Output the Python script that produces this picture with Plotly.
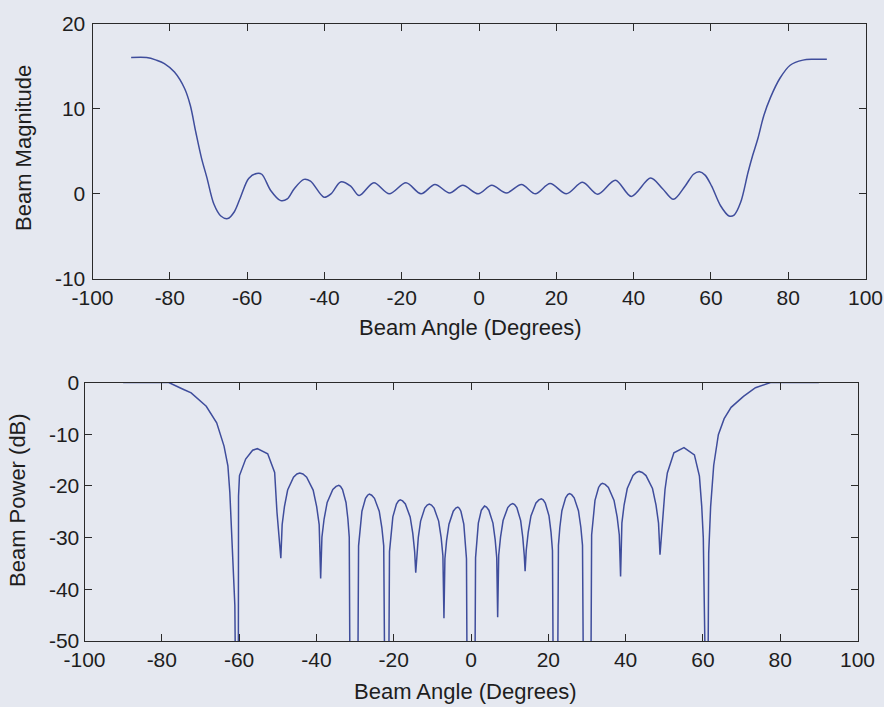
import plotly.graph_objects as go

# ---------------- data ----------------
mag_angle = [-90, -86, -83.5, -81.4, -78.8, -76.2, -74.7, -73.3, -71.8, -70.4,
             -68.6, -66.8, -65.0, -63.3, -61.7, -59.6, -57.5, -56.2, -53.9, -51.3,
             -49.6, -47.8, -45.3, -43.6, -40.1, -38.3, -35.8, -33.2, -31.0, -27.2,
             -23.2, -18.9, -15.0, -11.4, -7.6, -4.2, -0.2, 3.3, 7.1, 11.0,
             14.6, 18.4, 22.6, 26.8, 30.7, 35.3, 39.4, 44.4, 47.5, 50.3,
             53.3, 55.5, 57.0, 58.5, 60.2, 62.5, 64.7, 66.0, 67.7, 69.6,
             70.8, 72.1, 73.7, 75.4, 77.9, 80.5, 83.8, 86.5, 90]
mag_value = [16.0, 16.0, 15.7, 15.3, 14.3, 12.4, 10.4, 7.3, 4.2, 1.9,
             -1.2, -2.6, -2.9, -2.1, -0.4, 1.8, 2.4, 2.3, 0.4, -0.8,
             -0.6, 0.6, 1.7, 1.5, -0.4, 0.0, 1.4, 0.9, -0.2, 1.3,
             0.0, 1.3, 0.0, 1.1, 0.1, 1.0, 0.0, 1.0, 0.1, 1.1,
             0.0, 1.2, 0.0, 1.35, -0.05, 1.6, -0.3, 1.85, 0.6, -0.65,
             0.9, 2.3, 2.6, 2.2, 0.9, -1.4, -2.6, -2.5, -1.0, 2.5,
             4.5, 6.4, 9.2, 11.3, 13.6, 15.1, 15.7, 15.8, 15.8]

pow_angle = [-90, -84, -78.2, -74.5, -72.4, -68.5, -65.8, -63.9, -62.9, -62.4, -61.9, -61.1, -60.9,
             -60.2, -60.15, -59.9, -58.3, -56.5, -55.3, -52.6, -50.8, -50.2, -49.2,
             -48.86, -48.27, -47.44, -45.92, -45.04, -44.3, -43.49, -42.52, -40.84, -39.93, -39.28, -38.9,
             -38.57, -38.01, -37.21, -35.75, -34.9, -34.2, -33.77, -33.24, -32.34, -31.85, -31.5, -31.3,
             -29.3, -29.09, -28.73, -28.22, -27.29, -26.75, -26.3, -25.7, -24.98, -23.74, -23.06, -22.58, -22.3,
             -21.3, -21.09, -20.73, -20.22, -19.29, -18.75, -18.3, -17.7, -16.98, -15.74, -15.06, -14.58, -14.3,
             -14.06, -13.64, -13.04, -11.96, -11.33, -10.8, -10.23, -9.55, -8.37, -7.72, -7.27, -7.0,
             -6.75, -6.32, -5.70, -4.59, -3.94, -3.4, -3.04, -2.61, -1.86, -1.46, -1.17, -1.0,
             1.0, 1.18, 1.48, 1.90, 2.68, 3.13, 3.5, 4.01, 4.62, 5.68, 6.25, 6.66, 6.9,
             7.17, 7.64, 8.30, 9.51, 10.22, 10.8, 11.28, 11.86, 12.85, 13.39, 13.78, 14.0,
             14.29, 14.8, 15.51, 16.81, 17.57, 18.2, 18.67, 19.22, 20.18, 20.71, 21.08, 21.3,
             22.4, 22.62, 22.99, 23.52, 24.48, 25.04, 25.5, 26.04, 26.69, 27.8, 28.42, 28.85, 29.1,
             31.0, 31.21, 31.57, 32.08, 33.01, 33.55, 34.0, 34.71, 35.55, 37.01, 37.81, 38.37, 38.7,
             39.04, 39.61, 40.43, 41.92, 42.78, 43.5, 44.31, 45.28, 46.96, 47.87, 48.52, 48.9,
             49.6, 50.2, 50.8, 52.5, 55.1, 57.8, 59.1, 59.7, 60.1, 60.7,
             61.3, 61.5, 62.0, 62.8, 64.0, 65.5, 67.3, 70.5, 73.6, 77.5, 84, 90]
pow_value = [0, 0, 0, -1.3, -2.0, -4.6, -7.8, -12.3, -16.1, -21.2, -29.6, -43.1, -60,
             -60, -22, -18.0, -14.8, -13.1, -12.8, -13.8, -17.4, -25.1, -34.0,
             -27.5, -24.0, -20.8, -18.3, -17.7, -17.5, -17.7, -18.3, -20.8, -24.0, -27.5, -37.9,
             -29.9, -26.4, -23.2, -20.7, -20.1, -19.9, -20.1, -20.7, -23.2, -26.4, -29.9, -60,
             -60, -31.6, -28.1, -24.9, -22.4, -21.8, -21.6, -21.8, -22.4, -24.9, -28.1, -31.6, -60,
             -60, -32.7, -29.2, -26.0, -23.5, -22.9, -22.7, -22.9, -23.5, -26.0, -29.2, -32.7, -36.8,
             -33.5, -30.0, -26.8, -24.3, -23.7, -23.5, -23.7, -24.3, -26.8, -30.0, -33.5, -45.6,
             -34.1, -30.6, -27.4, -24.9, -24.3, -24.1, -24.3, -24.9, -27.4, -30.6, -34.1, -60,
             -60, -33.9, -30.4, -27.2, -24.7, -24.1, -23.9, -24.1, -24.7, -27.2, -30.4, -33.9, -45.4,
             -33.4, -29.9, -26.7, -24.2, -23.6, -23.4, -23.6, -24.2, -26.7, -29.9, -33.4, -36.5,
             -32.5, -29.0, -25.8, -23.3, -22.7, -22.5, -22.7, -23.3, -25.8, -29.0, -32.5, -60,
             -60, -31.5, -28.0, -24.8, -22.3, -21.7, -21.5, -21.7, -22.3, -24.8, -28.0, -31.5, -60,
             -60, -29.5, -26.0, -22.8, -20.3, -19.7, -19.5, -19.7, -20.3, -22.8, -26.0, -29.5, -37.5,
             -27.2, -23.7, -20.5, -18.0, -17.4, -17.2, -17.4, -18.0, -20.5, -23.7, -27.2, -33.3,
             -26.0, -20.7, -17.5, -13.6, -12.6, -14.0, -18.1, -24.0, -30.0, -60,
             -60, -33.0, -24.0, -16.0, -10.1, -7.0, -4.8, -2.7, -1.0, 0, 0, 0]

x_ticks = [-100, -80, -60, -40, -20, 0, 20, 40, 60, 80, 100]
x_tick_labels = ["-100", "-80", "-60", "-40", "-20", "0", "20", "40", "60", "80", "100"]
mag_ticks = [-10, 0, 10, 20]
mag_tick_labels = ["-10", "0", "10", "20"]
pow_ticks = [-50, -40, -30, -20, -10, 0]
pow_tick_labels = ["-50", "-40", "-30", "-20", "-10", "0"]

# ---------------- styling ----------------
W, H = 884, 707
BG = "#e5e8f0"
LINE = "#3f4d9c"
AX = "#2a2a2a"
FONT = "Liberation Sans, Arial, sans-serif"
TICKF = dict(family=FONT, size=21, color="#1e1e1e")


def px_x(v):
    return v / W


def px_y(v):
    return 1 - v / H


fig = go.Figure()
fig.add_trace(go.Scatter(x=mag_angle, y=mag_value, mode="lines",
                         line=dict(color=LINE, width=1.5, shape="spline", smoothing=0.9),
                         xaxis="x", yaxis="y", showlegend=False))
fig.add_trace(go.Scatter(x=pow_angle, y=pow_value, mode="lines",
                         line=dict(color=LINE, width=1.5),
                         xaxis="x2", yaxis="y2", showlegend=False))

common = dict(showline=True, linecolor=AX, linewidth=1, mirror="allticks",
              ticks="inside", ticklen=7, tickcolor=AX, tickwidth=1,
              showgrid=False, zeroline=False, tickfont=TICKF, automargin=False)

fig.update_layout(
    width=W, height=H,
    margin=dict(l=0, r=0, t=0, b=0),
    paper_bgcolor=BG, plot_bgcolor=BG,
    xaxis=dict(domain=[px_x(92.5), px_x(865.5)], range=[-100, 100],
               tickvals=x_ticks, ticktext=x_tick_labels,
               anchor="y", ticklabelstandoff=0, **common),
    yaxis=dict(domain=[px_y(279), px_y(23.5)], range=[-10, 20],
               tickvals=mag_ticks, ticktext=mag_tick_labels,
               anchor="x", ticklabelstandoff=2, **common),
    xaxis2=dict(domain=[px_x(84.5), px_x(857.5)], range=[-100, 100],
                tickvals=x_ticks, ticktext=x_tick_labels,
                anchor="y2", ticklabelstandoff=0, **common),
    yaxis2=dict(domain=[px_y(641), px_y(382.5)], range=[-50, 0],
                tickvals=pow_ticks, ticktext=pow_tick_labels,
                anchor="x2", ticklabelstandoff=0, **common),
    annotations=[
        dict(text="Beam Angle (Degrees)", x=px_x(470), y=px_y(327), xref="paper", yref="paper",
             showarrow=False, xanchor="center", yanchor="middle",
             font=dict(family=FONT, size=22, color="#1e1e1e")),
        dict(text="Beam Angle (Degrees)", x=px_x(465), y=px_y(691), xref="paper", yref="paper",
             showarrow=False, xanchor="center", yanchor="middle",
             font=dict(family=FONT, size=22, color="#1e1e1e")),
        dict(text="Beam Magnitude", x=px_x(23), y=px_y(148), xref="paper", yref="paper",
             showarrow=False, xanchor="center", yanchor="middle", textangle=-90,
             font=dict(family=FONT, size=22, color="#1e1e1e")),
        dict(text="Beam Power (dB)", x=px_x(17), y=px_y(500), xref="paper", yref="paper",
             showarrow=False, xanchor="center", yanchor="middle", textangle=-90,
             font=dict(family=FONT, size=22, color="#1e1e1e")),
    ],
)

fig.write_html("out.html")
